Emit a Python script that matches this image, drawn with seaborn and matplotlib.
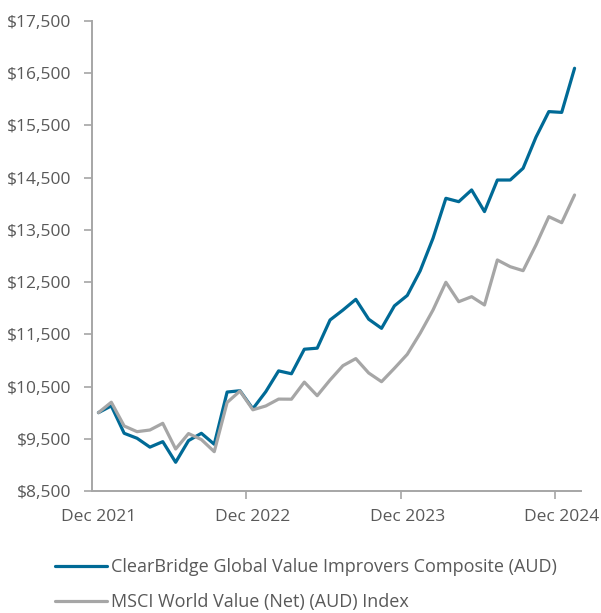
import matplotlib
matplotlib.use("Agg")
import matplotlib.pyplot as plt
from matplotlib.ticker import FuncFormatter, FixedLocator
from matplotlib.lines import Line2D
import pandas as pd
import seaborn as sns

########### DATA (monthly, Dec 2021 - Jan 2025) ###########
months = pd.date_range("2021-12-01", periods=38, freq="MS")

composite = [10000, 10130, 9605, 9510, 9340, 9445, 9050, 9465, 9605, 9395,
             10395, 10420, 10075, 10400, 10800, 10745, 11215, 11235, 11775, 11965,
             12170, 11790, 11615, 12045, 12245, 12715, 13340, 14105, 14040, 14265,
             13850, 14455, 14455, 14680, 15275, 15765, 15750, 16595]

msci = [10000, 10200, 9745, 9636, 9668, 9796, 9304, 9600, 9485, 9253,
        10195, 10415, 10055, 10128, 10260, 10258, 10585, 10325, 10626, 10900,
        11035, 10760, 10593, 10850, 11118, 11520, 11966, 12497, 12125, 12221,
        12062, 12924, 12795, 12719, 13211, 13753, 13638, 14168]

series_names = ["ClearBridge Global Value Improvers Composite (AUD)",
                "MSCI World Value (Net) (AUD) Index"]
x_labels = ["Dec 2021", "Dec 2022", "Dec 2023", "Dec 2024"]
y_ticks = [8500, 9500, 10500, 11500, 12500, 13500, 14500, 15500, 16500, 17500]

blue = "#006A96"
grey = "#A6A6A6"
txt = "#595959"

df = pd.DataFrame({
    "idx": list(range(len(months))) * 2,
    "value": composite + msci,
    "series": [series_names[0]] * len(composite) + [series_names[1]] * len(msci),
})

sns.set_style("white")
plt.rcParams["font.family"] = ["Open Sans", "DejaVu Sans"]

fig = plt.figure(figsize=(6.01, 6.13), dpi=100)
ax = fig.add_axes([92 / 601, 1 - 491 / 613, (581 - 92) / 601, (491 - 21) / 613])

sns.lineplot(data=df, x="idx", y="value", hue="series",
             palette=[blue, grey], linewidth=2.3, ax=ax, legend=False)

ax.set_xlim(-0.5, len(months) - 0.5)
ax.set_ylim(8500, 17500)
ax.set_xlabel("")
ax.set_ylabel("")

# y axis
ax.set_yticks(y_ticks)
ax.yaxis.set_major_formatter(FuncFormatter(lambda v, p: f"${v:,.0f}"))
ax.tick_params(axis="y", which="major", direction="out", length=6, width=1.2,
               color=grey, labelcolor=txt, labelsize=12.5, pad=9, left=True)

# x axis: ticks between categories, labels on the Dec points
label_pos = [0, 12, 24, 36]
ax.xaxis.set_major_locator(FixedLocator([p - 0.5 for p in label_pos[1:]]))
ax.xaxis.set_major_formatter(FuncFormatter(lambda v, p: ""))
ax.xaxis.set_minor_locator(FixedLocator(label_pos))
ax.set_xticklabels(x_labels, minor=True)
ax.tick_params(axis="x", which="major", direction="out", length=6, width=1.2,
               color=grey, bottom=True)
ax.tick_params(axis="x", which="minor", length=0, labelcolor=txt,
               labelsize=12.5, pad=13)

for s in ["top", "right"]:
    ax.spines[s].set_visible(False)
for s in ["left", "bottom"]:
    ax.spines[s].set_color(grey)
    ax.spines[s].set_linewidth(1.4)

handles = [Line2D([], [], color=blue, lw=2.3), Line2D([], [], color=grey, lw=2.3)]
fig.legend(handles, series_names, loc="upper left",
           bbox_to_anchor=(55 / 601, 1 - 558 / 613), frameon=False,
           borderpad=0, borderaxespad=0,
           fontsize=13, labelcolor=txt, handlelength=2.9, handletextpad=0.22,
           labelspacing=0.94)

fig.savefig("out.png", dpi=100)
